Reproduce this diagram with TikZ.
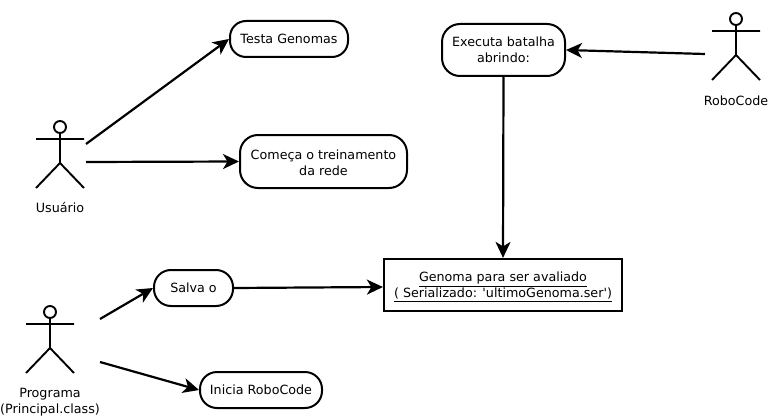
\documentclass[tikz,border=0pt]{standalone}
\usepackage{fontspec}
\setmainfont{DejaVu Sans}[Ligatures=TeXOff]
\usetikzlibrary{arrows.meta}
\tikzset{
  x=1pt,y=-1pt,
  txt/.style={font=\fontsize{12.7pt}{16pt}\selectfont,align=center,inner sep=0pt,text=black},
  usecase/.style={txt,draw=black,line width=2pt,rounded corners=#1,anchor=center},
  usecase/.default=17pt,
  genomabox/.style={txt,draw=black,line width=2.2pt,anchor=center},
  conn/.style={draw=black,line width=2.2pt,-{Stealth[length=16pt,width=15pt,inset=4.5pt]}},
  figure/.style={draw=black,line width=1.9pt},
}
\newcommand{\actor}[2]{%
  \draw[figure] (#1,#2) circle[radius=6pt];
  \draw[figure] (#1,#2+6) -- (#1,#2+36) (#1-24,#2+12) -- (#1+24,#2+12)
    (#1-24,#2+61) -- (#1,#2+36) -- (#1+24,#2+61);
}
\begin{document}
\begin{tikzpicture}
\useasboundingbox[fill=white] (0,0) rectangle (770,417);
\actor{60}{127}
\actor{50}{312}
\actor{736}{19}
\node[txt] (usuario) at (60,208) {Usuário};
\node[txt] (programa) at (50,402.5) {Programa\\(Principal.class)};
\node[txt] (robocode) at (736,100.5) {RoboCode};
\node[usecase=16pt,minimum width=118pt,minimum height=36pt] (testa) at (289,39) {Testa Genomas};
\node[usecase=18pt,minimum width=167pt,minimum height=53pt] (comeca) at (323.5,161.5) {\rule{0pt}{11.6pt}Começa o treinamento\\da rede};
\node[usecase=18pt,minimum width=123pt,minimum height=52pt] (executa) at (503.5,50) {Executa batalha\\abrindo:};
\node[usecase=17pt,minimum width=79pt,minimum height=36pt] (salva) at (193.5,288) {Salva o};
\node[usecase=17pt,minimum width=122pt,minimum height=36pt] (inicia) at (261,390) {Inicia RoboCode};
\node[genomabox,minimum width=238pt,minimum height=52pt] (genoma) at (503,285) {\rule{0pt}{13.6pt}\underline{Genoma para ser avaliado}\\\underline{( Serializado: 'ultimoGenoma.ser')}};
\coordinate (u1) at (86,144);
\coordinate (u2) at (86,162);
\coordinate (p1) at (100,319);
\coordinate (p2) at (100,362);
\coordinate (r1) at (705,54);
\draw[conn] (u1) -- (testa.west);
\draw[conn] (u2) -- (comeca.west);
\draw[conn] (p1) -- (salva.west);
\draw[conn] (p2) -- (inicia.west);
\draw[conn] (salva.east) -- ([yshift=-2pt]genoma.west);
\draw[conn] (r1) -- (executa.east);
\draw[conn] (executa.south) -- (genoma.north);
\end{tikzpicture}
\end{document}
